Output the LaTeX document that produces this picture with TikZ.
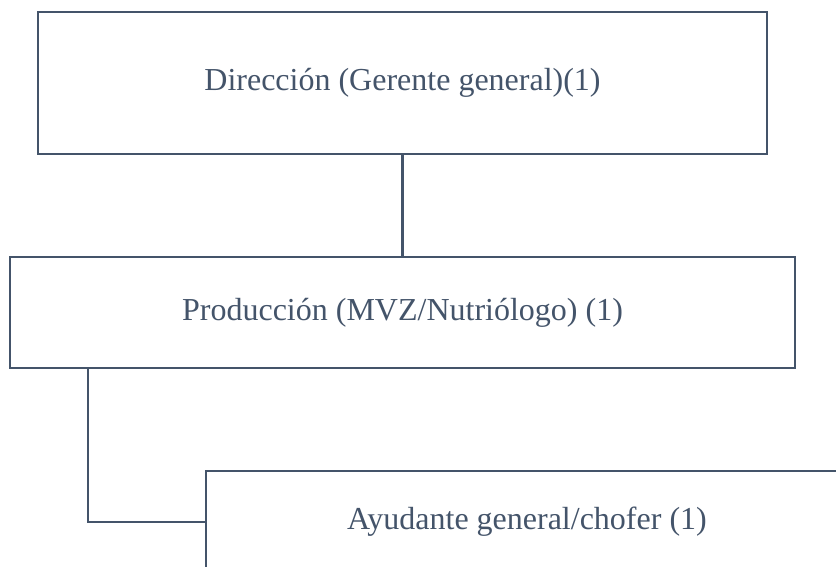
\documentclass[tikz,border=0pt]{standalone}
\usepackage{fontspec}
\setmainfont{Liberation Serif}
\usepackage{xcolor}
\usepackage{tikz}
\usetikzlibrary{calc,positioning}
\definecolor{pizarra}{HTML}{44546A}

\begin{document}
\begin{tikzpicture}[x=1pt,y=-1pt,
		caja/.style={draw=pizarra,line width=2.5pt,fill=white,inner sep=0pt,
			text=pizarra,font=\fontsize{32}{38}\selectfont},
		linea/.style={draw=pizarra,line width=2.5pt}]
			\useasboundingbox (0,0) rectangle (836,567);
			\clip (0,0) rectangle (836,567);
			
			\node[caja,minimum width=729pt,minimum height=142pt] (dir) at (402.5,83)
			{Dirección (Gerente general)(1)};
			\node[caja,minimum width=785pt,minimum height=111pt] (prod) at (402.5,312.5)
			{Producción (MVZ/Nutriólogo) (1)};
			\node[caja,minimum width=642pt,minimum height=102pt] (ayu) at (527,522)
			{Ayudante general/chofer (1)};
			
			\coordinate (bajada) at (88,368);
			
			\draw[linea] (dir.south) -- (prod.north);
			\draw[linea] (bajada) |- (ayu.west);
		\end{tikzpicture}
\end{document}
